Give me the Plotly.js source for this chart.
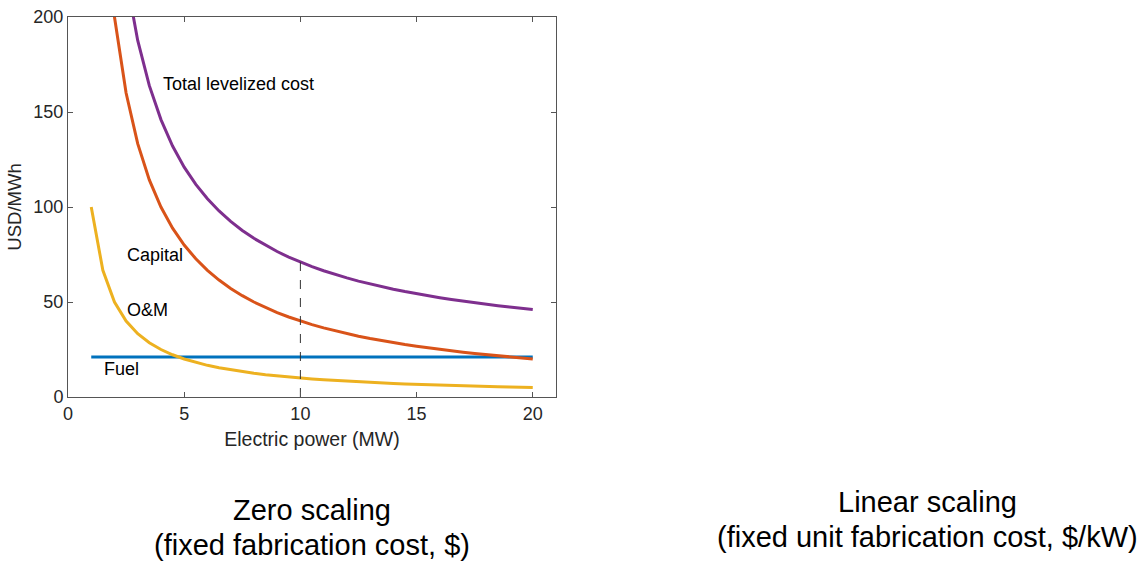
<!DOCTYPE html>
<html>
<head>
<meta charset="utf-8">
<script src="https://cdn.plot.ly/plotly-3.0.1.min.js"></script>
<style>html,body{margin:0;padding:0;background:#fff;}#chart{width:1141px;height:561px;}</style>
</head>
<body>
<div id="chart"></div>
<script>
// Electric power (MW)
const power = [1,1.5,2,2.5,3,3.5,4,4.5,5,5.5,6,6.5,7,7.5,8,8.5,9,9.5,10,10.5,11,11.5,12,12.5,13,13.5,14,14.5,15,15.5,16,16.5,17,17.5,18,18.5,19,19.5,20];
// USD/MWh components
const omCost = [100,66.67,50,40,33.33,28.57,25,22.22,20,18.18,16.67,15.38,14.29,13.33,12.5,11.76,11.11,10.53,10,9.52,9.09,8.7,8.33,8,7.69,7.41,7.14,6.9,6.67,6.45,6.25,6.06,5.88,5.71,5.56,5.41,5.26,5.13,5];
const capitalCost = [400,266.67,200,160,133.33,114.29,100,88.89,80,72.73,66.67,61.54,57.14,53.33,50,47.06,44.44,42.11,40,38.1,36.36,34.78,33.33,32,30.77,29.63,28.57,27.59,26.67,25.81,25,24.24,23.53,22.86,22.22,21.62,21.05,20.51,20];
const totalCost = [521,354.33,271,221,187.67,163.86,146,132.11,121,111.91,104.33,97.92,92.43,87.67,83.5,79.82,76.56,73.63,71,68.62,66.45,64.48,62.67,61,59.46,58.04,56.71,55.48,54.33,53.26,52.25,51.3,50.41,49.57,48.78,48.03,47.32,46.64,46];
const fuelPower = [1,20];
const fuelCost = [21,21];
// Reference marker at 10 MW
const markerPower = [10,10];
const markerCost = [0,71];

const font = "Liberation Sans, Arial, sans-serif";
const axisCol = "#555555";
const txtCol = "#262626";

const traces = [
  {x: fuelPower, y: fuelCost, mode: "lines", line: {color: "#0072BD", width: 3}, name: "Fuel"},
  {x: power, y: capitalCost, mode: "lines", line: {color: "#D95319", width: 3}, name: "Capital"},
  {x: power, y: omCost, mode: "lines", line: {color: "#EDB120", width: 3}, name: "O&M"},
  {x: power, y: totalCost, mode: "lines", line: {color: "#7E2F8E", width: 3}, name: "Total levelized cost"},
  {x: markerPower, y: markerCost, mode: "lines", line: {color: "#333333", width: 1, dash: "dash"}, name: "10 MW"}
];

function lbl(text, x, y) {
  return {text: text, x: x, y: y, xref: "x", yref: "y", xanchor: "left", yanchor: "middle",
          showarrow: false, font: {family: font, size: 18, color: "#000"}};
}
function cap(text, x, y) {
  return {text: text, x: x, y: y, xref: "paper", yref: "paper", xanchor: "center", yanchor: "middle",
          showarrow: false, font: {family: font, size: 29, color: "#000"}};
}

const layout = {
  width: 1141, height: 561,
  margin: {l: 68, r: 585, t: 17, b: 164, pad: 0},
  paper_bgcolor: "#fff", plot_bgcolor: "#fff",
  showlegend: false,
  font: {family: font, color: txtCol},
  xaxis: {
    range: [0, 21], tickvals: [0,5,10,15,20], ticktext: ["0","5","10","15","20"],
    showgrid: false, zeroline: false, showline: true, mirror: "ticks",
    linecolor: axisCol, linewidth: 1, ticks: "inside", ticklen: 5, tickcolor: axisCol,
    tickfont: {family: font, size: 18, color: txtCol},
    title: {text: "Electric power (MW)", font: {family: font, size: 19.5, color: txtCol}, standoff: 9}
  },
  yaxis: {
    range: [0, 200], tickvals: [0,50,100,150,200], ticktext: ["0","50","100","150","200"],
    showgrid: false, zeroline: false, showline: true, mirror: "ticks",
    linecolor: axisCol, linewidth: 1, ticks: "inside", ticklen: 5, tickcolor: axisCol,
    tickfont: {family: font, size: 18, color: txtCol},
    title: {text: "USD/MWh", font: {family: font, size: 18.5, color: txtCol}, standoff: 6}
  },
  annotations: [
    lbl("Total levelized cost", 4.0, 165),
    lbl("Capital", 2.45, 75),
    lbl("O&M", 2.45, 46),
    lbl("Fuel", 1.45, 15),
    cap("Zero scaling", 0.5, -0.297),
    cap("(fixed fabrication cost, $)", 0.5, -0.389),
    cap("Linear scaling", 1.762, -0.276),
    cap("(fixed unit fabrication cost, $/kW)", 1.762, -0.368)
  ]
};

Plotly.newPlot("chart", traces, layout, {displayModeBar: false, staticPlot: true});
</script>
</body>
</html>
